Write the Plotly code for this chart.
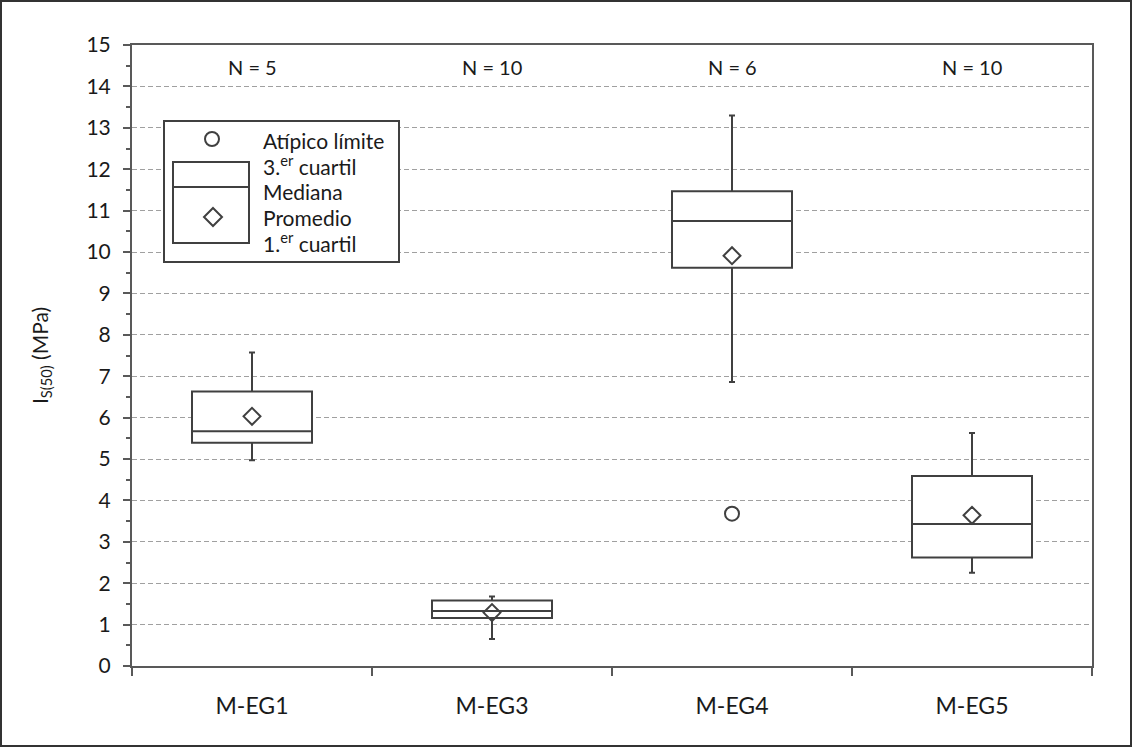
import plotly.graph_objects as go

categories = ["M-EG1", "M-EG3", "M-EG4", "M-EG5"]
n_counts = [5, 10, 6, 10]
q1 = [5.39, 1.16, 9.62, 2.62]
median = [5.67, 1.33, 10.75, 3.43]
q3 = [6.63, 1.58, 11.47, 4.59]
lower_whisker = [4.97, 0.65, 6.86, 2.25]
upper_whisker = [7.57, 1.68, 13.30, 5.63]
means = [6.03, 1.29, 9.91, 3.64]
outlier_cat = [2]
outlier_val = [3.68]

FONT = "Lato"
DARK = "#404040"
TXT = "#1a1a1a"
pos = list(range(len(categories)))

fig = go.Figure()
fig.add_trace(go.Box(
    x=pos, q1=q1, median=median, q3=q3,
    lowerfence=lower_whisker, upperfence=upper_whisker,
    width=0.5, whiskerwidth=0.05, fillcolor="white",
    line=dict(color=DARK, width=2), boxpoints=False, showlegend=False,
    hoverinfo="skip"))
fig.add_trace(go.Scatter(
    x=pos, y=means, mode="markers", showlegend=False,
    marker=dict(symbol="diamond-open", size=13, color=DARK, line=dict(width=2, color=DARK))))
fig.add_trace(go.Scatter(
    x=outlier_cat, y=outlier_val, mode="markers", showlegend=False,
    marker=dict(symbol="circle-open", size=14, color=DARK, line=dict(width=2, color=DARK))))

for i, n in zip(pos, n_counts):
    fig.add_annotation(x=i, y=14.47, text=f"N = {n}", showarrow=False,
                       font=dict(family=FONT, size=20, color=TXT))

# Legend box drawn by hand (paper coordinates)
def px(x):
    return (x - 132) / 960
def py(y):
    return (666 - y) / 621

shapes = []
shapes.append(dict(type="rect", xref="paper", yref="paper", x0=px(164), x1=px(399), y0=py(262), y1=py(121),
                   line=dict(color=DARK, width=2), fillcolor="white", layer="above"))
shapes.append(dict(type="rect", xref="paper", yref="paper", x0=px(173), x1=px(249), y0=py(243), y1=py(162),
                   line=dict(color=DARK, width=2), fillcolor="white", layer="above"))
shapes.append(dict(type="line", xref="paper", yref="paper", x0=px(173), x1=px(249), y0=py(187), y1=py(187),
                   line=dict(color=DARK, width=2), layer="above"))
shapes.append(dict(type="circle", xref="paper", yref="paper", xsizemode="pixel", ysizemode="pixel",
                   xanchor=px(212), yanchor=py(139), x0=-7, x1=7, y0=-7, y1=7,
                   line=dict(color=DARK, width=2), layer="above"))
shapes.append(dict(type="path", xref="paper", yref="paper", xsizemode="pixel", ysizemode="pixel",
                   xanchor=px(213), yanchor=py(217), path="M 0 9 L 9 0 L 0 -9 L -9 0 Z",
                   line=dict(color=DARK, width=2), layer="above"))
# outer image border
shapes.append(dict(type="rect", xref="paper", yref="paper", x0=px(1), x1=px(1131), y0=py(746), y1=py(1),
                   line=dict(color="#333", width=2)))
fig.update_layout(shapes=shapes)

legend_texts = [("Atípico límite", 140), ("3.<sup>er</sup> cuartil", 165), ("Mediana", 191),
                ("Promedio", 217), ("1.<sup>er</sup> cuartil", 242)]
for t, yy in legend_texts:
    fig.add_annotation(xref="paper", yref="paper", x=px(261), y=py(yy), text=t, showarrow=False,
                       xanchor="left", yanchor="middle", font=dict(family=FONT, size=21, color=TXT))

fig.update_layout(
    width=1132, height=747,
    margin=dict(l=132, r=40, t=45, b=81),
    paper_bgcolor="white", plot_bgcolor="white",
    font=dict(family=FONT, size=20, color=TXT),
    xaxis=dict(range=[-0.5, 3.5], tickvals=pos, ticktext=categories, ticks="",
               showgrid=False, zeroline=False, showline=True, linecolor="#595959", linewidth=2,
               mirror=True, tickfont=dict(size=23), ticklabelstandoff=18,
               minor=dict(tick0=-0.5, dtick=1, ticks="outside", ticklen=8, tickcolor="#595959",
                          tickwidth=2, showgrid=False)),
    yaxis=dict(range=[0, 15], dtick=1, tick0=0, ticks="outside", ticklen=7, tickcolor="#595959",
               tickwidth=2, showline=True, linecolor="#595959", linewidth=2, mirror=True,
               showgrid=True, gridcolor="#a0a0a0", gridwidth=1.3, griddash="5px,3px",
               zeroline=False, tickfont=dict(size=21), ticklabelstandoff=8,
               minor=dict(dtick=0.5, ticks="outside", ticklen=4, tickcolor="#595959", tickwidth=1.5,
                          showgrid=False),
               title=dict(text="I<sub>S(50)</sub> (MPa)", font=dict(size=21), standoff=32)),
)

fig.write_html("out.html", config={"displayModeBar": False},
               post_script="document.body.style.margin='0';document.body.style.overflow='hidden';")
